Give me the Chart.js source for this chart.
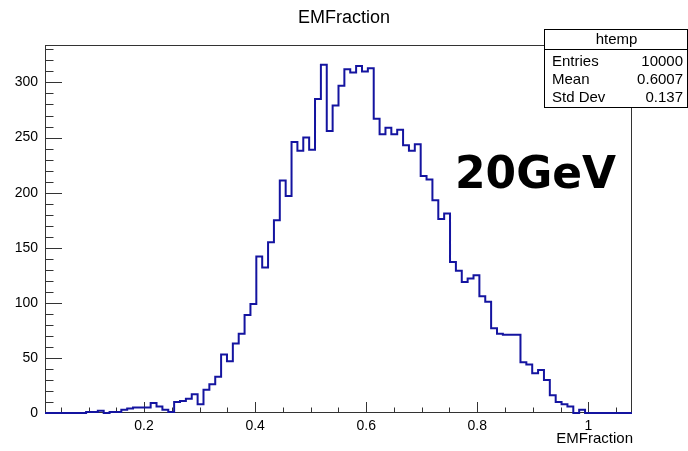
<!DOCTYPE html>
<html>
<head>
<meta charset="utf-8">
<script src="https://cdn.jsdelivr.net/npm/chart.js@4.4.1/dist/chart.umd.min.js"></script>
<style>
  html, body { margin: 0; padding: 0; background: #fff; }
  #wrap { width: 688px; height: 451px; }
</style>
</head>
<body>
<div id="wrap"><canvas id="chart" width="688" height="451"></canvas></div>
<script>
// histogram range (htemp, 100 bins)
const xMin = 0.0216;
const xMax = 1.0787;
const yMax = 334;

// bin contents, left to right
const binCounts = [
  0, 0, 0, 0, 0, 0, 0, 1, 1, 2,
  0, 1, 1, 3, 4, 5, 5, 5, 9, 6,
  3, 1, 10, 11, 13, 17, 8, 21, 26, 33,
  53, 47, 63, 72, 89, 99, 142, 132, 155, 175,
  211, 197, 246, 238, 250, 239, 285, 316, 256, 279,
  297, 312, 309, 315, 310, 313, 267, 253, 259, 253,
  257, 243, 238, 244, 215, 212, 193, 176, 181, 137,
  129, 119, 122, 125, 106, 101, 77, 72, 71, 71,
  71, 46, 44, 36, 39, 30, 16, 10, 8, 6,
  0, 3, 0, 0, 0, 0, 0, 0, 0, 0
];

const xTickValues = [0.2, 0.4, 0.6, 0.8, 1];
const yTickValues = [0, 50, 100, 150, 200, 250, 300];

const plotTitle = 'EMFraction';
const xAxisTitle = 'EMFraction';
const statsName = 'htemp';
const statsLabels = ['Entries', 'Mean', 'Std Dev'];
const statsValues = ['10000', '0.6007', '0.137'];
const energyLabel = '20GeV';

const FONT = '"Liberation Sans", Arial, Helvetica, sans-serif';
const LINE_COLOR = '#1414a0';
const FRAME_COLOR = '#333';

// step points at the bin edges
const binWidth = (xMax - xMin) / binCounts.length;
const histPoints = binCounts.map((c, i) => ({ x: xMin + i * binWidth, y: c }));
histPoints.push({ x: xMax, y: binCounts[binCounts.length - 1] });

// ROOT style frame, inner ticks, stats box and labels
const rootDecor = {
  id: 'rootDecor',
  beforeDraw(chart) {
    const ctx = chart.ctx;
    ctx.save();
    ctx.fillStyle = '#fff';
    ctx.fillRect(0, 0, chart.width, chart.height);
    ctx.restore();
  },
  beforeDatasetsDraw(chart) {
    const { ctx, chartArea: a } = chart;
    const xs = chart.scales.x, ys = chart.scales.y;
    ctx.save();
    ctx.strokeStyle = FRAME_COLOR;
    ctx.lineWidth = 1;

    // frame
    ctx.strokeRect(Math.round(a.left) + 0.5, Math.round(a.top) + 0.5,
      Math.round(a.right - a.left) - 1, Math.round(a.bottom - a.top) - 1);

    ctx.beginPath();
    // x ticks: major every 0.2, minor every 0.05
    for (let i = 1; i * 0.05 < xMax; i++) {
      const v = i * 0.05;
      if (v < xMin) continue;
      const px = Math.round(xs.getPixelForValue(v)) + 0.5;
      const len = (i % 4 === 0) ? 11 : 5.5;
      ctx.moveTo(px, a.bottom);
      ctx.lineTo(px, a.bottom - len);
    }
    // y ticks: major every 50, minor every 10
    for (let v = 10; v < yMax; v += 10) {
      const py = Math.round(ys.getPixelForValue(v)) + 0.5;
      const len = (v % 50 === 0) ? 17 : 8.5;
      ctx.moveTo(a.left, py);
      ctx.lineTo(a.left + len, py);
    }
    ctx.stroke();
    ctx.restore();
  },
  afterDraw(chart) {
    const { ctx, chartArea: a } = chart;
    ctx.save();
    ctx.lineWidth = 1;

    // title
    ctx.fillStyle = '#000';
    ctx.font = '18px ' + FONT;
    ctx.textAlign = 'center';
    ctx.textBaseline = 'middle';
    ctx.fillText(plotTitle, 344, 18);

    // x axis title
    ctx.font = '15px ' + FONT;
    ctx.textAlign = 'right';
    ctx.fillText(xAxisTitle, a.right + 1, 439);

    // stats box
    const bx = 544, by = 29, bw = 143, bh = 78;
    ctx.fillStyle = '#fff';
    ctx.fillRect(bx, by, bw, bh);
    ctx.strokeStyle = '#000';
    ctx.strokeRect(bx + 0.5, by + 0.5, bw, bh);
    ctx.beginPath();
    ctx.moveTo(bx, by + 20.5);
    ctx.lineTo(bx + bw, by + 20.5);
    ctx.stroke();
    ctx.fillStyle = '#000';
    ctx.font = '15px ' + FONT;
    ctx.textAlign = 'center';
    ctx.fillText(statsName, bx + bw / 2 + 1, by + 11);
    statsLabels.forEach((lab, i) => {
      const ty = by + 33 + i * 18;
      ctx.textAlign = 'left';
      ctx.fillText(lab, bx + 8, ty);
      ctx.textAlign = 'right';
      ctx.fillText(statsValues[i], bx + bw - 4, ty);
    });

    // energy label
    ctx.font = 'bold 45px "DejaVu Sans", sans-serif';
    ctx.textAlign = 'left';
    ctx.textBaseline = 'alphabetic';
    ctx.fillText(energyLabel, 455, 188, 161);

    ctx.restore();
  }
};

new Chart(document.getElementById('chart'), {
  type: 'line',
  data: {
    datasets: [{
      label: 'htemp',
      data: histPoints,
      stepped: 'before',
      borderColor: LINE_COLOR,
      borderWidth: 2,
      pointRadius: 0,
      fill: false,
      clip: 2
    }]
  },
  options: {
    responsive: false,
    animation: false,
    layout: { padding: { top: 45, right: 56, left: 0, bottom: 0 } },
    plugins: {
      legend: { display: false },
      tooltip: { enabled: false },
      title: { display: false }
    },
    scales: {
      x: {
        type: 'linear',
        min: xMin,
        max: xMax,
        grid: { display: false, drawTicks: false },
        border: { display: false },
        ticks: {
          color: '#000',
          font: { family: FONT, size: 14 },
          padding: 5,
          maxRotation: 0,
          callback: v => String(v)
        },
        afterBuildTicks: s => { s.ticks = xTickValues.map(v => ({ value: v })); },
        afterFit: s => { s.height = 38; }
      },
      y: {
        type: 'linear',
        min: 0,
        max: yMax,
        grid: { display: false, drawTicks: false },
        border: { display: false },
        ticks: {
          color: '#000',
          font: { family: FONT, size: 14 },
          padding: 7,
          callback: v => String(v)
        },
        afterBuildTicks: s => { s.ticks = yTickValues.map(v => ({ value: v })); },
        afterFit: s => { s.width = 45; }
      }
    }
  },
  plugins: [rootDecor]
});
</script>
</body>
</html>
